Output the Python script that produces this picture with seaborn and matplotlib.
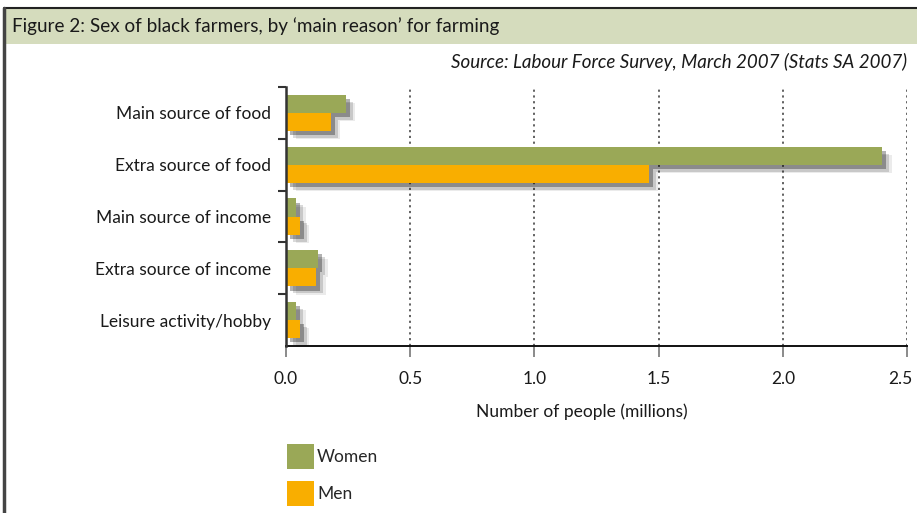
import matplotlib
matplotlib.use("Agg")
import matplotlib.pyplot as plt
import matplotlib.patheffects as pe
import matplotlib.transforms as mtransforms
from matplotlib.patches import Rectangle
from matplotlib.lines import Line2D
import seaborn as sns
import pandas as pd

categories = ["Main source of food", "Extra source of food", "Main source of income",
              "Extra source of income", "Leisure activity/hobby"]
women = [0.24, 2.40, 0.04, 0.13, 0.04]
men = [0.18, 1.46, 0.055, 0.12, 0.055]
series = ["Women", "Men"]
xticks = [0.0, 0.5, 1.0, 1.5, 2.0, 2.5]

df = pd.DataFrame({
    "reason": categories * 2,
    "value": women + men,
    "sex": ["Women"] * len(categories) + ["Men"] * len(categories),
})

sns.set_theme(style="white")
plt.rcParams["font.family"] = ["Lato", "DejaVu Sans"]

W, H = 917, 513
fig = plt.figure(figsize=(W / 100, H / 100), dpi=100)
fig.patch.set_facecolor("white")

# header band and frame
fig.patches.append(Rectangle((4 / W, 1 - 44 / H), 1, 36 / H, transform=fig.transFigure,
                             facecolor="#d5dcbd", edgecolor="none", zorder=0))
fig.add_artist(Line2D([4 / W, 1], [1 - 8 / H, 1 - 8 / H], transform=fig.transFigure,
                      color="#222222", lw=1.5))
fig.add_artist(Line2D([4 / W, 4 / W], [0, 1 - 8 / H], transform=fig.transFigure,
                      color="#444444", lw=2.5))
fig.text(12 / W, 1 - 26 / H, "Figure 2: Sex of black farmers, by \u2018main reason\u2019 for farming",
         fontsize=13.6, color="#1a1a1a", va="center", ha="left")
fig.text(907 / W, 1 - 62 / H, "Source: Labour Force Survey, March 2007 (Stats SA 2007)",
         fontsize=13.5, style="italic", color="#1a1a1a", va="center", ha="right")

ax = fig.add_axes([286 / W, 1 - 346 / H, 621 / W, 259 / H])
palette = {"Women": "#9aa857", "Men": "#f9ae00"}
sns.barplot(data=df, y="reason", x="value", hue="sex", hue_order=series, order=categories,
            palette=palette, orient="h", width=0.7, saturation=1, linewidth=0, ax=ax, zorder=3)

shadow = [
    pe.SimplePatchShadow(offset=(7, -6), shadow_rgbFace="black", alpha=0.08),
    pe.SimplePatchShadow(offset=(5, -5), shadow_rgbFace="black", alpha=0.15),
    pe.SimplePatchShadow(offset=(3, -3), shadow_rgbFace="black", alpha=0.3),
    pe.Normal(),
]
for p in ax.patches:
    p.set_path_effects(shadow)

ax.set_xlim(0, 2.5)
ax.set_ylim(len(categories) - 0.5, -0.5)
ax.set_xticks(xticks)
ax.set_xticklabels([f"{t:.1f}" for t in xticks], fontsize=12.5, color="#1a1a1a")
ax.set_yticks(range(len(categories)))
ax.set_yticklabels(categories, fontsize=12.5, color="#1a1a1a")
ax.set_yticks([i - 0.5 for i in range(len(categories))], minor=True)
ax.tick_params(axis="y", which="major", length=0, pad=11)
ax.tick_params(axis="y", which="minor", length=6, width=1.5, color="#333333", direction="out", left=True)
ax.tick_params(axis="x", which="major", length=8, width=1.2, color="#777777", direction="out",
               bottom=True, pad=10)
ax.set_xlabel("Number of people (millions)", fontsize=12.5, color="#1a1a1a", labelpad=12,
              x=(582 - 286) / 621)
ax.set_ylabel("")

# nudge the last tick label inward so it stays inside the figure
last = ax.get_xticklabels()[-1]
last.set_transform(last.get_transform() + mtransforms.ScaledTranslation(-7 / 100, 0, fig.dpi_scale_trans))

ax.grid(axis="x", linestyle=(0, (1.2, 2)), color="#555555", linewidth=1.3, zorder=1)
ax.grid(axis="y", visible=False)
for s in ["top", "right"]:
    ax.spines[s].set_visible(False)
ax.spines["left"].set_color("#333333")
ax.spines["left"].set_linewidth(1.8)
ax.spines["bottom"].set_color("#111111")
ax.spines["bottom"].set_linewidth(1.4)
ax.spines["left"].set_zorder(4)

leg = ax.legend(loc="upper left", bbox_to_anchor=(271 / W, 1 - 428 / H),
                bbox_transform=fig.transFigure, frameon=False, fontsize=12.5,
                handlelength=1.6, handleheight=1.9, labelspacing=0.65, handletextpad=0.15)
for h in leg.legend_handles:
    h.set_path_effects([])

fig.savefig("out.png", dpi=100)
